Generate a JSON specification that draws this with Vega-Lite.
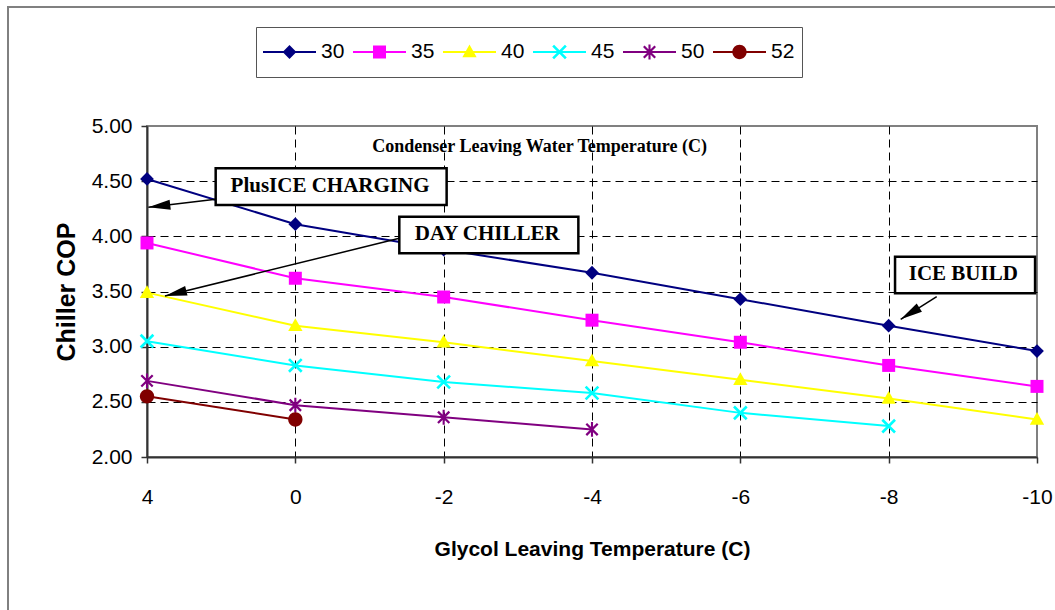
{
  "$schema": "https://vega.github.io/schema/vega-lite/v6.json",
  "width": 890,
  "height": 331,
  "autosize": {"type": "none"},
  "padding": {"left": 147, "top": 126, "right": 18, "bottom": 153},
  "background": "white",
  "config": {
    "font": "Liberation Sans",
    "view": {"stroke": "#808080", "strokeWidth": 2},
    "axis": {
      "domainColor": "#333333",
      "domainWidth": 2,
      "tickColor": "#333333",
      "tickWidth": 1.5,
      "tickSize": 6,
      "labelColor": "black",
      "labelFont": "Liberation Sans",
      "labelFontSize": 21,
      "titleColor": "black",
      "titleFont": "Liberation Sans",
      "titleFontWeight": "bold",
      "gridColor": "black",
      "gridDash": [8, 5],
      "gridWidth": 1
    }
  },
  "datasets": {
    "cop": [
      {"series": "30", "glycol": 4, "cop": 4.52},
      {"series": "30", "glycol": 0, "cop": 4.11},
      {"series": "30", "glycol": -2, "cop": 3.88},
      {"series": "30", "glycol": -4, "cop": 3.67},
      {"series": "30", "glycol": -6, "cop": 3.43},
      {"series": "30", "glycol": -8, "cop": 3.19},
      {"series": "30", "glycol": -10, "cop": 2.96},
      {"series": "35", "glycol": 4, "cop": 3.94},
      {"series": "35", "glycol": 0, "cop": 3.62},
      {"series": "35", "glycol": -2, "cop": 3.45},
      {"series": "35", "glycol": -4, "cop": 3.24},
      {"series": "35", "glycol": -6, "cop": 3.04},
      {"series": "35", "glycol": -8, "cop": 2.83},
      {"series": "35", "glycol": -10, "cop": 2.64},
      {"series": "40", "glycol": 4, "cop": 3.49},
      {"series": "40", "glycol": 0, "cop": 3.19},
      {"series": "40", "glycol": -2, "cop": 3.04},
      {"series": "40", "glycol": -4, "cop": 2.87},
      {"series": "40", "glycol": -6, "cop": 2.70},
      {"series": "40", "glycol": -8, "cop": 2.53},
      {"series": "40", "glycol": -10, "cop": 2.34},
      {"series": "45", "glycol": 4, "cop": 3.05},
      {"series": "45", "glycol": 0, "cop": 2.83},
      {"series": "45", "glycol": -2, "cop": 2.68},
      {"series": "45", "glycol": -4, "cop": 2.58},
      {"series": "45", "glycol": -6, "cop": 2.40},
      {"series": "45", "glycol": -8, "cop": 2.28},
      {"series": "50", "glycol": 4, "cop": 2.69},
      {"series": "50", "glycol": 0, "cop": 2.47},
      {"series": "50", "glycol": -2, "cop": 2.36},
      {"series": "50", "glycol": -4, "cop": 2.25},
      {"series": "52", "glycol": 4, "cop": 2.55},
      {"series": "52", "glycol": 0, "cop": 2.34}
    ],
    "boxes": [
      {"label": "PlusICE CHARGING", "x1": 0.463, "x2": 2.020, "y1": 4.617, "y2": 4.284, "tx": 1.234, "ty": 4.456},
      {"label": "DAY CHILLER", "x1": 1.701, "x2": 2.908, "y1": 4.178, "y2": 3.846, "tx": 2.294, "ty": 4.021},
      {"label": "ICE BUILD", "x1": 5.043, "x2": 5.987, "y1": 3.815, "y2": 3.484, "tx": 5.503, "ty": 3.656}
    ],
    "captions": [
      {"label": "Condenser Leaving Water Temperature (C)", "tx": 2.647, "ty": 4.812}
    ],
    "arrows": [
      {"name": "PlusICE", "fromX": 0.463, "fromY": 4.336, "toX": 0.009, "toY": 4.263},
      {"name": "DAY", "fromX": 1.701, "fromY": 3.982, "toX": 0.121, "toY": 3.459},
      {"name": "ICE", "fromX": 5.324, "fromY": 3.453, "toX": 5.081, "toY": 3.248}
    ],
    "frame": [
      {"x1": -0.937, "x2": 6.2, "y1": 6.079, "y2": 0.4}
    ]
  },
  "layer": [
    {
      "data": {"name": "cop"},
      "layer": [
        {
          "mark": {"type": "line", "strokeWidth": 2},
          "encoding": {
            "x": {
              "field": "glycol", "type": "ordinal",
              "scale": {"type": "point", "domain": [4, 0, -2, -4, -6, -8, -10], "padding": 0},
              "axis": {
                "title": "Glycol Leaving Temperature (C)",
                "titleFontSize": 21,
                "labelAngle": 0,
                "labelPadding": 23,
                "titlePadding": 31,
                "grid": true,
                "gridOpacity": {"condition": {"test": "datum.value === 4 || datum.value === -10", "value": 0}, "value": 1}
              }
            },
            "y": {
              "field": "cop", "type": "quantitative",
              "scale": {"domain": [2, 5], "nice": false, "zero": false},
              "axis": {
                "title": "Chiller COP",
                "titleFontSize": 25,
                "values": [2, 2.5, 3, 3.5, 4, 4.5, 5],
                "format": ".2f",
                "labelPadding": 9,
                "titlePadding": 12,
                "grid": true,
                "gridOpacity": {"condition": {"test": "datum.value === 2 || datum.value === 5", "value": 0}, "value": 1}
              }
            },
            "stroke": {
              "field": "series", "type": "nominal",
              "scale": {"range": ["#000080", "#FF00FF", "#FFFF00", "#00FFFF", "#800080", "#800000"]},
              "legend": null
            }
          }
        },
        {
          "mark": {"type": "point", "filled": true, "size": 2809, "opacity": 1, "strokeWidth": 0},
          "encoding": {
            "x": {
              "field": "glycol", "type": "ordinal",
              "scale": {"type": "point", "domain": [4, 0, -2, -4, -6, -8, -10], "padding": 0}
            },
            "y": {
              "field": "cop", "type": "quantitative",
              "scale": {"domain": [2, 5], "nice": false, "zero": false}
            },
            "color": {
              "field": "series", "type": "nominal",
              "scale": {"domain": ["30", "35", "40", "45", "50", "52"], "range": ["#000080", "#FF00FF", "#FFFF00", "#00FFFF", "#800080", "#800000"]},
              "legend": {
                "title": null,
                "orient": "none",
                "direction": "horizontal",
                "legendX": 109,
                "legendY": -99,
                "symbolSize": 2809,
                "symbolStrokeWidth": 0,
                "symbolType": {"expr": "'M-1,-0.04H1V0.04H-1Z' + scale('shape', datum.value)"},
                "labelFont": "Liberation Sans",
                "labelFontSize": 21,
                "labelColor": "black",
                "labelOffset": 5,
                "columnPadding": 8,
                "padding": 7,
                "clipHeight": 36,
                "strokeColor": "#555555",
                "encode": {
                  "legend": {"strokeWidth": {"value": 1.5}}
                }
              }
            },
            "shape": {
              "field": "series", "type": "nominal",
              "scale": {"range": [
                "M0,-0.26L0.26,0L0,0.26L-0.26,0Z",
                "M-0.245,-0.245H0.245V0.245H-0.245Z",
                "M0,-0.28L0.27,0.2L-0.27,0.2Z",
                "M-0.205,-0.275L0.275,0.205L0.205,0.275L-0.275,-0.205ZM-0.205,0.275L-0.275,0.205L0.205,-0.275L0.275,-0.205Z",
                "M-0.185,-0.245L0.245,0.185L0.185,0.245L-0.245,-0.185ZM-0.185,0.245L-0.245,0.185L0.185,-0.245L0.245,-0.185ZM-0.04,-0.28H0.04V0.28H-0.04Z",
                "M-0.27,0A0.27,0.27 0 1,1 0.27,0A0.27,0.27 0 1,1 -0.27,0Z"
              ]},
              "legend": null
            }
          }
        }
      ]
    },
    {
      "layer": [
        {
          "data": {"name": "frame"},
          "mark": {"type": "rect", "fill": "transparent", "stroke": "#808080", "strokeWidth": 2},
          "encoding": {
            "x": {"field": "x1", "type": "quantitative", "scale": {"domain": [0, 6], "nice": false, "zero": false}, "axis": null},
            "x2": {"field": "x2"},
            "y": {"field": "y1", "type": "quantitative", "scale": {"domain": [2, 5], "nice": false, "zero": false}, "axis": null},
            "y2": {"field": "y2"}
          }
        },
        {
          "data": {"name": "arrows"},
          "mark": {"type": "rule", "color": "black", "strokeWidth": 1.5},
          "encoding": {
            "x": {"field": "fromX", "type": "quantitative", "scale": {"domain": [0, 6], "nice": false, "zero": false}, "axis": null},
            "y": {"field": "fromY", "type": "quantitative", "scale": {"domain": [2, 5], "nice": false, "zero": false}, "axis": null},
            "x2": {"field": "toX"},
            "y2": {"field": "toY"}
          }
        },
        {
          "data": {"name": "arrows"},
          "transform": [{"filter": "datum.name === 'PlusICE'"}],
          "mark": {"type": "point", "shape": "M0,0L0.45,2L-0.45,2Z", "size": 484, "angle": 263.2, "filled": true, "color": "black", "opacity": 1, "strokeWidth": 0},
          "encoding": {
            "x": {"field": "toX", "type": "quantitative", "scale": {"domain": [0, 6], "nice": false, "zero": false}, "axis": null},
            "y": {"field": "toY", "type": "quantitative", "scale": {"domain": [2, 5], "nice": false, "zero": false}, "axis": null}
          }
        },
        {
          "data": {"name": "arrows"},
          "transform": [{"filter": "datum.name === 'DAY'"}],
          "mark": {"type": "point", "shape": "M0,0L0.45,2L-0.45,2Z", "size": 484, "angle": 256.2, "filled": true, "color": "black", "opacity": 1, "strokeWidth": 0},
          "encoding": {
            "x": {"field": "toX", "type": "quantitative", "scale": {"domain": [0, 6], "nice": false, "zero": false}, "axis": null},
            "y": {"field": "toY", "type": "quantitative", "scale": {"domain": [2, 5], "nice": false, "zero": false}, "axis": null}
          }
        },
        {
          "data": {"name": "arrows"},
          "transform": [{"filter": "datum.name === 'ICE'"}],
          "mark": {"type": "point", "shape": "M0,0L0.45,2L-0.45,2Z", "size": 484, "angle": 237.9, "filled": true, "color": "black", "opacity": 1, "strokeWidth": 0},
          "encoding": {
            "x": {"field": "toX", "type": "quantitative", "scale": {"domain": [0, 6], "nice": false, "zero": false}, "axis": null},
            "y": {"field": "toY", "type": "quantitative", "scale": {"domain": [2, 5], "nice": false, "zero": false}, "axis": null}
          }
        },
        {
          "data": {"name": "boxes"},
          "mark": {"type": "rect", "fill": "white", "stroke": "black", "strokeWidth": 2.5},
          "encoding": {
            "x": {"field": "x1", "type": "quantitative", "scale": {"domain": [0, 6], "nice": false, "zero": false}, "axis": null},
            "x2": {"field": "x2"},
            "y": {"field": "y1", "type": "quantitative", "scale": {"domain": [2, 5], "nice": false, "zero": false}, "axis": null},
            "y2": {"field": "y2"}
          }
        },
        {
          "data": {"name": "boxes"},
          "mark": {"type": "text", "font": "Liberation Serif", "fontWeight": "bold", "fontSize": 21, "align": "center", "baseline": "middle", "color": "black"},
          "encoding": {
            "x": {"field": "tx", "type": "quantitative", "scale": {"domain": [0, 6], "nice": false, "zero": false}, "axis": null},
            "y": {"field": "ty", "type": "quantitative", "scale": {"domain": [2, 5], "nice": false, "zero": false}, "axis": null},
            "text": {"field": "label"}
          }
        },
        {
          "data": {"name": "captions"},
          "mark": {"type": "text", "font": "Liberation Serif", "fontWeight": "bold", "fontSize": 18, "align": "center", "baseline": "middle", "color": "black"},
          "encoding": {
            "x": {"field": "tx", "type": "quantitative", "scale": {"domain": [0, 6], "nice": false, "zero": false}, "axis": null},
            "y": {"field": "ty", "type": "quantitative", "scale": {"domain": [2, 5], "nice": false, "zero": false}, "axis": null},
            "text": {"field": "label"}
          }
        }
      ]
    }
  ],
  "resolve": {"scale": {"x": "independent", "y": "independent"}}
}
